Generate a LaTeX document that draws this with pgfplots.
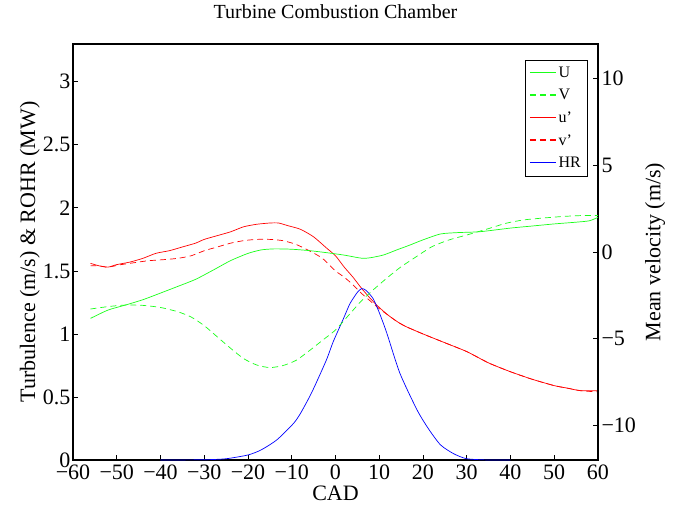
\documentclass[border=0pt]{standalone}
\usepackage{fontspec}
\setmainfont{Liberation Serif}
\usepackage{pgfplots}
\pgfplotsset{compat=1.18}
\definecolor{mg}{rgb}{0.1,1,0.1}
\begin{document}
\begin{tikzpicture}
\pgfplotsset{
  common/.style={
    width=525bp, height=416bp, scale only axis,
    xmin=-60, xmax=60, 
    tick align=inside, major tick length=5bp,
    axis line style={line width=1.1bp},
    every tick/.style={black, line width=0.8bp},
    /pgf/number format/assume math mode=true,
    ticklabel style={font=\fontsize{22bp}{24bp}\selectfont},
    label style={font=\fontsize{22bp}{26bp}\selectfont},
    every axis plot/.append style={line width=0.7bp, smooth, tension=0.4},
  },
  /pgfplots/legend image code/.code={\draw[#1, line width=1.2bp] (0bp,0.5bp) -- (26bp,0.5bp);},
}
\useasboundingbox (-73bp,-46bp) rectangle (610bp,460bp);
\begin{axis}[common,
  ymin=0, ymax=3.3,
  ytick={0,0.5,1,1.5,2,2.5,3},
  xtick={-60,-50,...,60},
  xticklabels={−60,−50,−40,−30,−20,−10,0,10,20,30,40,50,60},
  xtick pos=bottom, ytick pos=left,
  xticklabel style={yshift=-1bp},
  yticklabel style={xshift=1bp},
  xlabel={CAD},
  xlabel style={at={(axis description cs:0.5,-0.081)}, anchor=center},
  ylabel={Turbulence (m/s) \& ROHR (MW)},
  ylabel style={at={(axis description cs:-0.082,0.5)}, anchor=center},
  title={Turbine Combustion Chamber},
  title style={at={(axis description cs:0.5,1.0625)}, anchor=center, font=\fontsize{20bp}{23bp}\selectfont},
]
\addplot[red] coordinates {
(-56,1.56) (-54,1.54) (-52,1.53) (-50,1.55) (-47,1.57) (-44,1.60) (-41,1.64) (-38,1.66) (-35,1.69) (-32,1.72) (-30,1.75) (-27,1.78) (-24,1.81) (-21,1.85) (-18,1.87) (-15,1.88) (-13,1.88) (-11,1.86) (-8,1.83) (-5,1.77) (-2,1.68) (0,1.62) (2,1.53) (4,1.45) (6,1.36) (8,1.28) (10,1.21) (12,1.15) (14,1.10) (16,1.06) (20,1.00) (25,0.93) (30,0.86) (35,0.77) (40,0.70) (45,0.64) (50,0.59) (53,0.57) (56,0.55) (60,0.55)};
\addplot[red, dash pattern=on 6bp off 4bp] coordinates {
(-56,1.54) (-54,1.54) (-52,1.53) (-49,1.55) (-47,1.56) (-43,1.58) (-39,1.59) (-36,1.60) (-33,1.62) (-30,1.66) (-27,1.69) (-24,1.72) (-21,1.74) (-18,1.75) (-15,1.75) (-12,1.74) (-9,1.71) (-6,1.66) (-3,1.60) (0,1.50) (2,1.45) (4,1.39) (6,1.32) (8,1.26) (10,1.20) (12,1.15) (14,1.10) (16,1.06) (20,1.00) (25,0.93) (30,0.86) (35,0.77) (40,0.70) (45,0.64) (50,0.59) (53,0.57) (56,0.55) (60,0.54)};
\addplot[blue] coordinates {
(-40,0) (-30,0.002) (-25,0.01) (-20,0.04) (-17,0.08) (-13.4,0.16) (-9.6,0.29) (-8,0.37) (-5.8,0.51) (-4.3,0.62) (-2,0.80) (-0.5,0.94) (1.8,1.12) (3.3,1.24) (5,1.33) (6,1.36) (7,1.345) (8.6,1.28) (10,1.17) (11.7,1.01) (14.7,0.69) (18.6,0.40) (21.2,0.25) (24,0.12) (27,0.05) (30,0.01) (35,0) (40,0)};
\end{axis}
\begin{axis}[common,
  ymin=-12, ymax=12,
  axis x line=none, axis y line*=right,
  ytick={-10,-5,0,5,10},
  yticklabels={−10,−5,0,5,10},
  ytick pos=right,
  ylabel={Mean velocity (m/s)},
  ylabel style={at={(axis description cs:1.109,0.5)}, anchor=center, rotate=0},
  legend style={at={(rel axis cs:0.979,0.962)}, anchor=north east, fill=white,
    font=\fontsize{16bp}{18bp}\selectfont, row sep=6.5bp, inner xsep=4bp, inner ysep=5bp, cells={anchor=west}},
  legend cell align=left,
]
\addplot[mg] coordinates {
(-56,-3.83) (-52,-3.35) (-48,-3.06) (-44,-2.75) (-40,-2.37) (-36,-1.98) (-32,-1.58) (-28,-1.05) (-24,-0.50) (-20,-0.08) (-17,0.12) (-14,0.18) (-10,0.16) (-6,0.08) (-2,-0.04) (2,-0.18) (6,-0.36) (8,-0.33) (11,-0.17) (14,0.12) (17,0.40) (20,0.70) (24,1.04) (28,1.12) (33,1.17) (40,1.38) (45,1.50) (50,1.62) (55,1.72) (58,1.80) (60,2.00)};
\addlegendentry{U}
\addplot[mg, dash pattern=on 6bp off 4bp] coordinates {
(-56,-3.29) (-52,-3.15) (-48,-3.06) (-44,-3.08) (-40,-3.2) (-36,-3.45) (-33,-3.75) (-30,-4.25) (-27,-4.9) (-24,-5.55) (-21,-6.15) (-18,-6.52) (-15,-6.67) (-12,-6.55) (-9,-6.25) (-6,-5.7) (-3,-5.1) (0,-4.5) (3,-3.65) (6,-2.8) (9,-2.1) (12,-1.45) (15,-0.85) (18,-0.35) (22,0.3) (26,0.7) (30,0.98) (35,1.35) (39,1.66) (43,1.85) (47,1.95) (52,2.05) (56,2.10) (60,2.10)};
\addlegendentry{V}
\addlegendimage{red}
\addlegendentry{u’}
\addlegendimage{red, dash pattern=on 6bp off 4bp}
\addlegendentry{v’}
\addlegendimage{blue}
\addlegendentry{HR}
\end{axis}
\end{tikzpicture}
\end{document}
